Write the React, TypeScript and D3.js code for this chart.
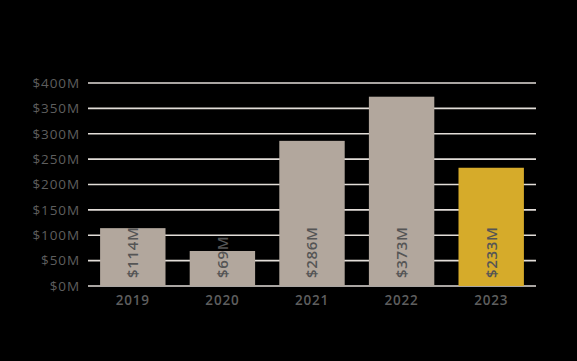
import React from "react";
import * as d3 from "d3";

const years = ["2019", "2020", "2021", "2022", "2023"];
const values = [114, 69, 286, 373, 233];
const labels = ["$114M", "$69M", "$286M", "$373M", "$233M"];
const ticks = [0, 50, 100, 150, 200, 250, 300, 350, 400];
const highlight = "2023";

export default function App() {
  const W = 577, H = 361;
  const x = d3.scaleBand<string>().domain(years).range([88, 536]).paddingInner(0.27).paddingOuter(0.135);
  const y = d3.scaleLinear().domain([0, 400]).range([286, 83]);
  const font = "'Open Sans', 'Noto Sans', sans-serif";
  return (
    <svg width={W} height={H} style={{ position: "fixed", left: 0, top: 0, display: "block", background: "#000" }}>
      <rect x={0} y={0} width={W} height={H} fill="#000" />
      {ticks.map((t) => (
        <g key={t}>
          <line x1={88} x2={536} y1={y(t)} y2={y(t)} stroke="#e2ddd8" strokeWidth={1.6} />
          <text x={80} y={y(t)} dy="0.36em" textAnchor="end" fill="#5e5e5e" fontSize={13.5} letterSpacing={0.9} fontFamily={font}>
            {`$${t}M`}
          </text>
        </g>
      ))}
      {years.map((yr, i) => {
        const bx = x(yr)!;
        const bw = x.bandwidth();
        const cx = bx + bw / 2;
        return (
          <g key={yr}>
            <rect x={bx} y={y(values[i])} width={bw} height={y(0) - y(values[i])} fill={yr === highlight ? "#d6ab2a" : "#b2a79d"} />
            <text
              transform={`translate(${cx},${y(0) - 8}) rotate(-90)`}
              dy="0.36em"
              textAnchor="start"
              fill="#555555"
              fontSize={15}
              fontWeight={600}
              letterSpacing={0.7}
              fontFamily={font}
            >
              {labels[i]}
            </text>
            <text x={cx} y={305} textAnchor="middle" fill="#5e5e5e" fontSize={13.5} fontWeight={600} letterSpacing={0.8} fontFamily={font}>
              {yr}
            </text>
          </g>
        );
      })}
    </svg>
  );
}
